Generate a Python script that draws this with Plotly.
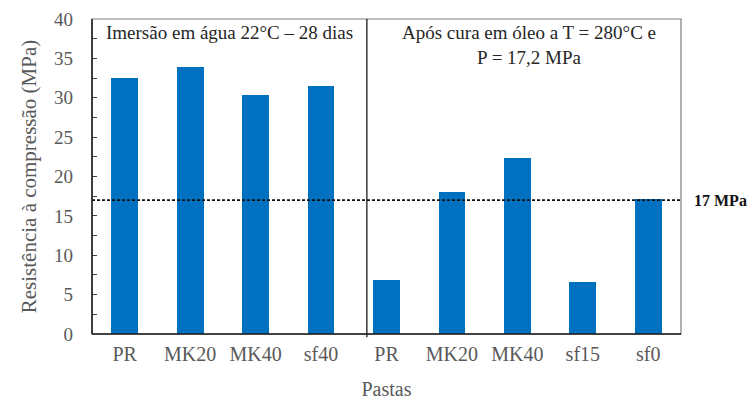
import plotly.graph_objects as go

# Compressive strength of the pastes
categories = ["PR", "MK20", "MK40", "sf40", "PR", "MK20", "MK40", "sf15", "sf0"]
strength = [32.5, 33.9, 30.3, 31.5, 6.9, 18.0, 22.3, 6.6, 17.2]
reference_level = 17  # MPa
y_ticks = [0, 5, 10, 15, 20, 25, 30, 35, 40]

positions = list(range(len(categories)))
group_split = 3.7  # boundary between the two curing conditions

FONT = "Liberation Serif"
GREY_TXT = "#595959"

fig = go.Figure()
fig.add_trace(go.Bar(
    x=positions, y=strength, width=0.41,
    marker=dict(color="#0070C0", line=dict(width=0)),
    showlegend=False, hoverinfo="x+y",
))

fig.update_layout(
    width=753, height=403,
    margin=dict(l=92, r=72, t=19, b=69),
    paper_bgcolor="white", plot_bgcolor="white",
    font=dict(family=FONT, color=GREY_TXT),
    bargap=0,
    xaxis=dict(
        range=[-0.5, len(categories) - 0.5],
        tickmode="array", tickvals=positions, ticktext=categories,
        tickfont=dict(family=FONT, size=20, color=GREY_TXT),
        showgrid=False, zeroline=False, showline=False, ticks="",
        ticklabelstandoff=6, automargin=False,
        title=dict(text="Pastas", font=dict(family=FONT, size=20, color=GREY_TXT), standoff=17),
    ),
    yaxis=dict(
        range=[0, 40], tickmode="array", tickvals=y_ticks,
        tickfont=dict(family=FONT, size=19, color=GREY_TXT),
        showgrid=False, zeroline=False, showline=False,
        ticks="inside", ticklen=5, tickcolor="#404040", tickwidth=1,
        minor=dict(dtick=2.5, ticks="inside", ticklen=5, tickcolor="#404040", tickwidth=1),
        ticklabelstandoff=18, automargin=False,
        title=dict(text="Resistência à compressão (MPa)",
                   font=dict(family=FONT, size=21, color=GREY_TXT), standoff=11),
    ),
)

# Plot frame: grey outline, black left/bottom axes and the group divider
fig.add_shape(type="rect", xref="paper", yref="paper", x0=0, x1=1, y0=0, y1=1,
              line=dict(color="#7f7f7f", width=1.2), layer="above")
fig.add_shape(type="line", xref="paper", yref="paper", x0=0, x1=0, y0=0, y1=1,
              line=dict(color="#1a1a1a", width=1.5), layer="above")
fig.add_shape(type="line", xref="paper", yref="paper", x0=0, x1=1, y0=0, y1=0,
              line=dict(color="#1a1a1a", width=1.5), layer="above")
fig.add_shape(type="line", xref="x", yref="paper", x0=group_split, x1=group_split,
              y0=-0.01, y1=1, line=dict(color="#1a1a1a", width=1.3), layer="above")

# Reference level
fig.add_shape(type="line", xref="paper", yref="y", x0=0, x1=1,
              y0=reference_level, y1=reference_level,
              line=dict(color="#111111", width=1.6, dash="3px,2px"), layer="above")
fig.add_annotation(xref="paper", yref="y", x=1.018, y=reference_level,
                   text=f"<b>{reference_level} MPa</b>", showarrow=False,
                   xanchor="left", yanchor="middle",
                   font=dict(family=FONT, size=16, color="#111111"))

# Group labels
fig.add_annotation(xref="x", yref="paper", x=(-0.5 + group_split) / 2, y=0.998,
                   text="Imersão em água 22°C – 28 dias", showarrow=False,
                   xanchor="center", yanchor="top",
                   font=dict(family=FONT, size=19, color="#262626"))
fig.add_annotation(xref="x", yref="paper", x=(group_split + len(categories) - 0.5) / 2 + 0.07,
                   y=0.998, text="Após cura em óleo a T = 280°C e<br>P = 17,2 MPa",
                   showarrow=False, xanchor="center", yanchor="top", align="center",
                   font=dict(family=FONT, size=19, color="#262626"))

fig.write_html("out.html")
